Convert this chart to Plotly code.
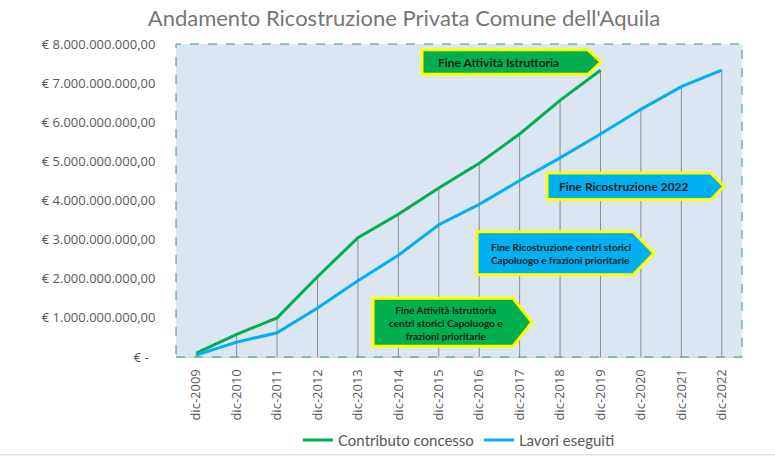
import plotly.graph_objects as go

# ---------------- data ----------------
categories = ["dic-2009", "dic-2010", "dic-2011", "dic-2012", "dic-2013", "dic-2014", "dic-2015",
              "dic-2016", "dic-2017", "dic-2018", "dic-2019", "dic-2020", "dic-2021", "dic-2022"]
contributo_concesso = [0.10e9, 0.58e9, 1.00e9, 2.05e9, 3.05e9, 3.65e9, 4.32e9,
                       4.95e9, 5.70e9, 6.56e9, 7.33e9, None, None, None]
lavori_eseguiti = [0.05e9, 0.38e9, 0.62e9, 1.25e9, 1.95e9, 2.60e9, 3.38e9,
                   3.90e9, 4.51e9, 5.09e9, 5.70e9, 6.33e9, 6.91e9, 7.33e9]
y_tickvals = [0, 1e9, 2e9, 3e9, 4e9, 5e9, 6e9, 7e9, 8e9]
y_ticktext = ["€ -\u00a0\u00a0", "€ 1.000.000.000,00", "€ 2.000.000.000,00", "€ 3.000.000.000,00",
              "€ 4.000.000.000,00", "€ 5.000.000.000,00", "€ 6.000.000.000,00",
              "€ 7.000.000.000,00", "€ 8.000.000.000,00"]

W, H = 775, 469
L, R, T, B = 176, 33, 44, 105
PW, PH = W - L - R, H - T - B

def px(x):
    return (x - L) / PW

def py(y):
    return (H - B - y) / PH

GREEN = "#00B050"
BLUE = "#00B0F0"
YELLOW = "#FFFF00"

fig = go.Figure()

# drop lines from highest series point to axis
dx, dy = [], []
for i, c in enumerate(categories):
    vals = [v for v in (contributo_concesso[i], lavori_eseguiti[i]) if v is not None]
    top = max(vals)
    dx += [c, c, None]
    dy += [top, 0, None]
fig.add_trace(go.Scatter(x=dx, y=dy, mode="lines", line=dict(color="#8C8C8C", width=1),
                         showlegend=False, hoverinfo="skip"))

fig.add_trace(go.Scatter(x=categories, y=contributo_concesso, mode="lines",
                         name="Contributo concesso", line=dict(color=GREEN, width=3)))
fig.add_trace(go.Scatter(x=categories, y=lavori_eseguiti, mode="lines",
                         name="Lavori eseguiti", line=dict(color=BLUE, width=3)))

shapes = []
# dashed border of the plot area
shapes.append(dict(type="rect", xref="paper", yref="paper", x0=0, x1=1, y0=0, y1=1,
                   line=dict(color="#2E9E6E", width=1, dash="dash"), layer="above"))
# bottom window line
shapes.append(dict(type="line", xref="paper", yref="paper", x0=px(0), x1=px(W), y0=py(464), y1=py(464),
                   line=dict(color="#D0D0D0", width=1)))

def pentagon(x0, xb, xt, y0, y1, fill):
    ym = (y0 + y1) / 2
    path = (f"M {px(x0)},{py(y0)} L {px(xb)},{py(y0)} L {px(xt)},{py(ym)} "
            f"L {px(xb)},{py(y1)} L {px(x0)},{py(y1)} Z")
    return dict(type="path", xref="paper", yref="paper", path=path, fillcolor=fill,
                line=dict(color=YELLOW, width=3), layer="above")

shapes.append(pentagon(422, 588, 601, 50, 75, GREEN))
shapes.append(pentagon(547, 711, 724, 176, 203, BLUE))
shapes.append(pentagon(477, 633, 654, 236, 280, BLUE))
shapes.append(pentagon(373, 513, 532, 304, 353, GREEN))

annotations = [
    dict(text="<b>Fine Attività Istruttoria</b>", x=px(498), y=py(62.5), xref="paper", yref="paper",
         showarrow=False, font=dict(family="Lato", size=12, color="#1A1A1A"), xanchor="center", yanchor="middle"),
    dict(text="<b>Fine Ricostruzione 2022</b>", x=px(624), y=py(190), xref="paper", yref="paper",
         showarrow=False, font=dict(family="Lato", size=12, color="#1A1A1A"), xanchor="center", yanchor="middle"),
    dict(text="<b>Fine Ricostruzione centri storici<br>Capoluogo e frazioni prioritarie</b>",
         x=px(489), y=py(258), xref="paper", yref="paper", showarrow=False, align="left",
         font=dict(family="Lato", size=10, color="#1A1A1A"), xanchor="left", yanchor="middle"),
    dict(text="<b>Fine Attività Istruttoria<br>centri storici Capoluogo e<br>frazioni prioritarie</b>",
         x=px(446), y=py(329), xref="paper", yref="paper", showarrow=False, align="center",
         font=dict(family="Lato", size=10, color="#1A1A1A"), xanchor="center", yanchor="middle"),
]

fig.update_layout(
    width=W, height=H,
    margin=dict(l=L, r=R, t=T, b=B, pad=0),
    paper_bgcolor="white",
    plot_bgcolor="#DCE6F2",
    title=dict(text="Andamento Ricostruzione Privata Comune dell'Aquila", x=404 / W, xref="container",
               xanchor="center", y=1 - 18 / H, yanchor="middle",
               font=dict(family="Lato", size=22, color="#767676")),
    font=dict(family="Lato", color="#595959"),
    showlegend=True,
    legend=dict(orientation="h", x=px(459), y=py(449), xanchor="center", yanchor="middle",
                font=dict(family="Lato", size=15, color="#595959"), itemwidth=30,
                bgcolor="rgba(0,0,0,0)"),
    xaxis=dict(type="category", range=[-0.5, len(categories) - 0.5], showgrid=False,
               tickangle=-90, tickfont=dict(family="Open Sans", size=13, color="#595959"),
               ticks="outside", ticklen=6, tickcolor="rgba(0,0,0,0)",
               showline=True, linecolor="#D0D0D0", linewidth=1, zeroline=False, fixedrange=True),
    yaxis=dict(range=[0, 8e9], tickvals=y_tickvals, ticktext=y_ticktext, showgrid=False,
               zeroline=False, showline=False,
               tickfont=dict(family="Open Sans", size=13, color="#595959"),
               ticks="outside", ticklen=17, tickcolor="rgba(0,0,0,0)", fixedrange=True),
    shapes=shapes,
    annotations=annotations,
)

fig.write_html("out.html")
